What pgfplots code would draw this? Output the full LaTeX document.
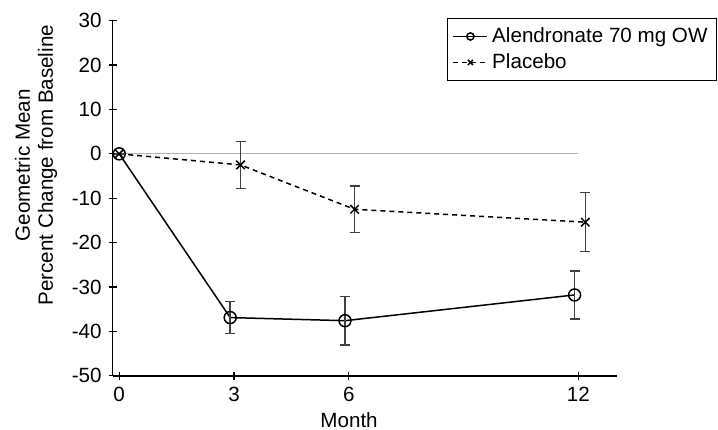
\documentclass[border=0pt]{standalone}
\usepackage{pgfplots}
\pgfplotsset{compat=1.18}
\usepackage{fontspec}
\setmainfont{Liberation Sans}
\begin{document}
\begin{tikzpicture}
\begin{axis}[
  at={(0,0)}, anchor=south west, scale only axis,
  width=252pt, height=177.5pt,
  xmin=-0.17, xmax=13, ymin=-50, ymax=30,
  axis x line=bottom, axis y line=left,
  axis line style={-, line width=0.8pt},
  xtick={0,3,6,12}, ytick={-50,-40,...,30},
  tick align=center, major tick length=4pt,
  tick style={black, line width=0.6pt},
  /pgf/number format/assume math mode=true,
  tick label style={font=\fontsize{10.3}{12}\selectfont},
  xlabel={Month},
  xlabel style={at={(axis description cs:0.469,-0.125)}, anchor=center, font=\fontsize{10.3}{12}\selectfont},
  ylabel={Geometric Mean\\Percent Change from Baseline},
  ylabel style={at={(axis description cs:-0.152,0.593)}, anchor=center, align=center, font=\fontsize{10.3}{11.5}\selectfont},
  legend style={at={(axis description cs:1.199,1.0076)}, anchor=north east, draw=black, line width=0.5pt, font=\fontsize{10.3}{11.5}\selectfont, inner sep=2.5pt},
  legend cell align=left,
  legend image post style={mark size=1.8pt},
]
\addplot[gray!60, line width=0.6pt, forget plot] coordinates {(-0.17,0) (12,0)};
\addplot[black, line width=0.75pt, mark=o, mark size=3pt, mark options={fill=white, solid},
  error bars/.cd, y dir=both, y explicit,
  error bar style={color=black!75, line width=0.7pt},
  error mark options={rotate=90, mark size=2.5pt, black!75, line width=0.7pt}]
  table[x=x, y=y, y error=e] {
x y e
0 0 0
2.9 -36.9 3.65
5.9 -37.6 5.45
11.9 -31.8 5.4
};
\addlegendentry{Alendronate 70 mg OW}
\addplot[black, line width=0.75pt, dash pattern=on 2.5pt off 2pt, mark=x, mark size=3pt, mark options={solid},
  error bars/.cd, y dir=both, y explicit,
  error bar style={color=black!75, line width=0.7pt, solid},
  error mark options={rotate=90, mark size=2.5pt, black!75, line width=0.7pt, solid}]
  table[x=x, y=y, y error=e] {
x y e
0 0 0
3.17 -2.5 5.25
6.15 -12.5 5.25
12.18 -15.4 6.65
};
\addlegendentry{Placebo}
\end{axis}
\pgfresetboundingbox
\path[use as bounding box] (-56.35pt,-26.65pt) rectangle (302.65pt,187.85pt);
\end{tikzpicture}
\end{document}
